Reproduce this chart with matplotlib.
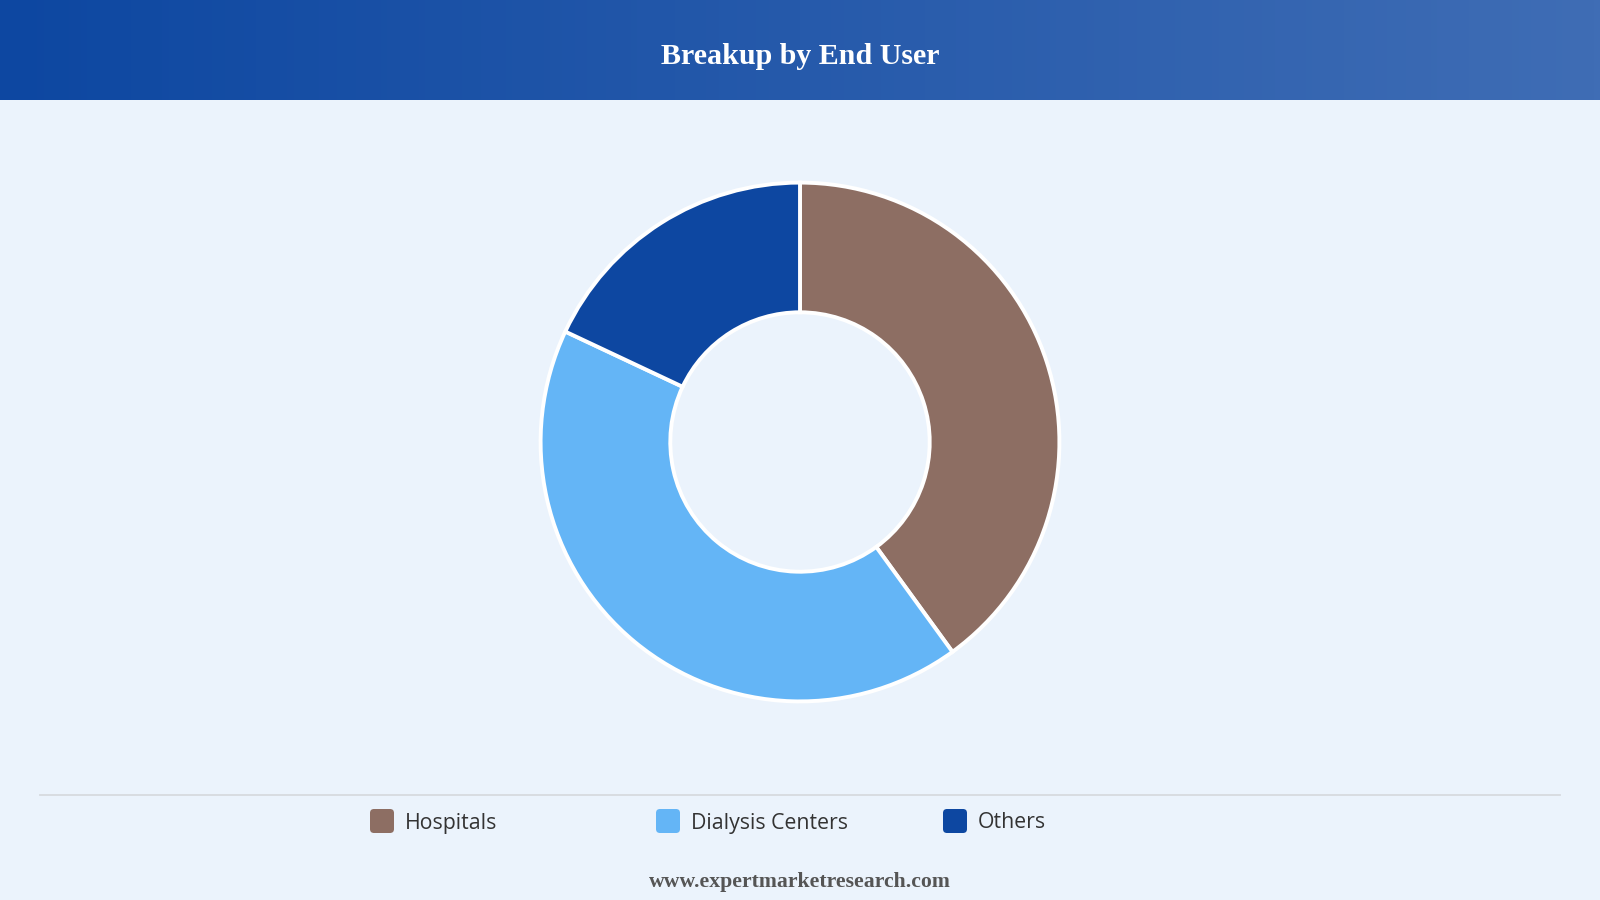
import numpy as np
import matplotlib
matplotlib.use("Agg")
import matplotlib.pyplot as plt
from matplotlib.patches import FancyBboxPatch
from matplotlib.colors import LinearSegmentedColormap

# data
labels = ["Hospitals", "Dialysis Centers", "Others"]
shares = [40, 42, 18]
colors = ["#8D6E63", "#64B5F6", "#0D47A1"]

title = "Breakup by End User"
footer = "www.expertmarketresearch.com"

W, H = 1600, 900
bg = "#EBF3FC"

fig = plt.figure(figsize=(16, 9), dpi=100, facecolor=bg)

# overlay axes in pixel coordinates (y down)
ov = fig.add_axes([0, 0, 1, 1], zorder=0)
ov.axis("off")

# header gradient
grad = LinearSegmentedColormap.from_list("hdr", ["#0D47A1", "#3F6DB5"])
ov.imshow(np.linspace(0, 1, 256).reshape(1, -1), cmap=grad, aspect="auto",
          extent=[0, W, 100, 0], zorder=1)
ov.set_xlim(0, W)
ov.set_ylim(H, 0)
ov.text(W / 2, 57, title, color="white", fontsize=21.6, fontweight="bold",
        family="Liberation Serif", ha="center", va="center", zorder=2)

# separator line
ov.plot([40, 1560], [795, 795], color="#D6DADF", lw=1.3, zorder=1)

# legend
leg_x = [370, 656, 943]
for x, lab, c in zip(leg_x, labels, colors):
    ov.add_patch(FancyBboxPatch((x + 3, 812), 18, 18,
                                boxstyle="round,pad=3,rounding_size=4",
                                fc=c, ec="none", zorder=2))
    ov.text(x + 35, 823, lab, fontsize=15.3, family="Open Sans", color="#333333",
            ha="left", va="center", zorder=2)

# footer
ov.text(W / 2, 882, footer, color="#555555", fontsize=15.7, fontweight="bold",
        family="Liberation Serif", ha="center", va="center", zorder=2)

# donut
cx, cy, r = 800, 442, 262
ax = fig.add_axes([(cx - r) / W, (H - cy - r) / H, 2 * r / W, 2 * r / H], zorder=3)
ax.pie(shares, colors=colors, startangle=90, counterclock=False, radius=1,
       wedgeprops=dict(width=0.5, edgecolor="white", linewidth=2.8))
ax.set_xlim(-1.01, 1.01)
ax.set_ylim(-1.01, 1.01)
ax.set_aspect("equal")
ax.axis("off")

fig.savefig("out.png", dpi=100, facecolor=bg)
